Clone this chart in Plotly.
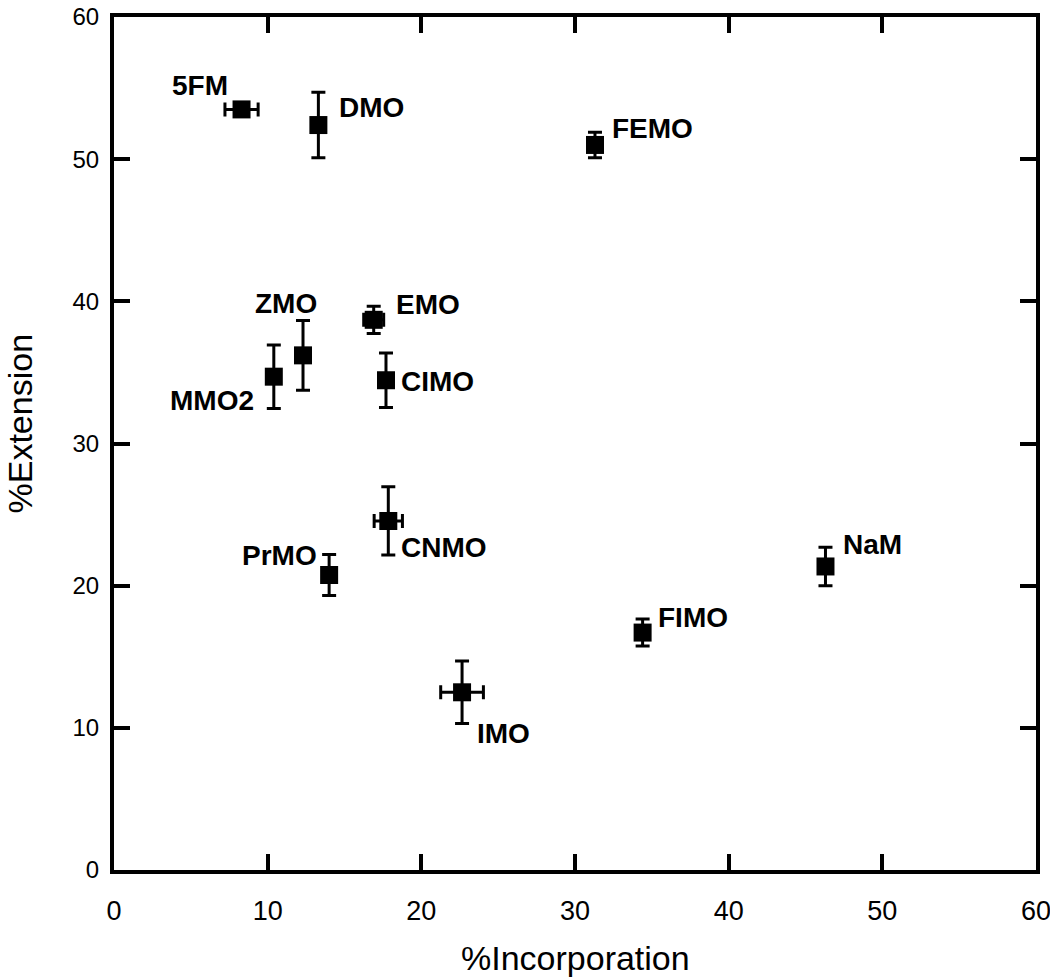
import plotly.graph_objects as go

names = ["5FM", "DMO", "FEMO", "ZMO", "EMO", "MMO2", "CIMO", "CNMO", "PrMO", "NaM", "FIMO", "IMO"]
incorporation = [8.3, 13.3, 31.3, 12.3, 16.9, 10.4, 17.7, 17.85, 14.0, 46.3, 34.4, 22.65]
extension = [53.5, 52.4, 51.0, 36.2, 38.7, 34.7, 34.45, 24.55, 20.75, 21.35, 16.7, 12.5]
incorporation_err = [1.08, 0.0, 0.2, 0.0, 0.65, 0.0, 0.0, 0.92, 0.0, 0.0, 0.2, 1.39]
extension_err = [0.2, 2.3, 0.9, 2.46, 0.96, 2.23, 1.92, 2.4, 1.44, 1.35, 0.95, 2.2]

# label offsets in pixels (style)
label_dx = [-42, 53, 58, -17, 54, -62, 52, 56, -50, 47, 50, 41]
label_dy = [24, 18, 16, 52, 15, -24, -1, -27, 20, 22, 15, -41]

xticks = [0, 10, 20, 30, 40, 50, 60]
yticks = [0, 10, 20, 30, 40, 50, 60]

fig = go.Figure()
fig.add_trace(go.Scatter(
    x=incorporation, y=extension, mode="markers",
    marker=dict(symbol="square", size=18, color="black"),
    error_x=dict(type="data", array=incorporation_err, color="black", thickness=3, width=7),
    error_y=dict(type="data", array=extension_err, color="black", thickness=3, width=7),
    showlegend=False, hoverinfo="skip",
))

annotations = []
for n, x, y, dx, dy in zip(names, incorporation, extension, label_dx, label_dy):
    annotations.append(dict(
        x=x, y=y, xref="x", yref="y", text=n, showarrow=False,
        xshift=dx, yshift=dy, xanchor="center", yanchor="middle",
        font=dict(family="Arial, Liberation Sans", size=28, color="black", weight="bold"),
    ))

annotations.append(dict(
    x=0.5, y=0, xref="paper", yref="paper", text="%Incorporation", showarrow=False,
    xanchor="center", yanchor="middle", yshift=-88,
    font=dict(family="Arial, Liberation Sans", size=34, color="black"),
))
annotations.append(dict(
    x=0, y=0.5, xref="paper", yref="paper", text="%Extension", showarrow=False,
    xanchor="center", yanchor="middle", xshift=-95, yshift=20, textangle=-90,
    font=dict(family="Arial, Liberation Sans", size=34, color="black"),
))

axis_common = dict(
    showline=True, linecolor="black", linewidth=4, mirror="ticks",
    ticks="inside", ticklen=16, tickwidth=4, tickcolor="black",
    showgrid=False, zeroline=False, automargin=False, ticklabeloverflow="allow",
)

fig.update_layout(
    template="none",
    width=1050, height=979,
    margin=dict(l=114, r=14, t=17, b=109, autoexpand=False),
    paper_bgcolor="white", plot_bgcolor="white",
    xaxis=dict(range=[0, 60], tickvals=xticks, ticktext=[str(v) for v in xticks],
               tickfont=dict(family="Arial, Liberation Sans", size=27, color="black"),
               ticklabelstandoff=14, **axis_common),
    yaxis=dict(range=[0, 60], tickvals=yticks, ticktext=[str(v) for v in yticks],
               tickfont=dict(family="Arial, Liberation Sans", size=24, color="black"),
               ticklabelstandoff=6, **axis_common),
    annotations=annotations,
)

page_fix = ("document.documentElement.style.margin='0';document.body.style.margin='0';"
            "document.documentElement.style.overflow='hidden';document.body.style.overflow='hidden';")
fig.write_html("out.html", post_script=page_fix, config={"displayModeBar": False})
